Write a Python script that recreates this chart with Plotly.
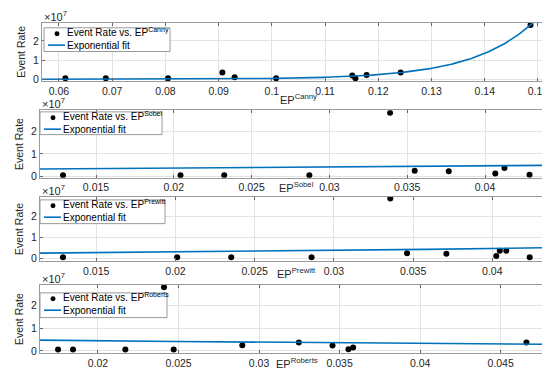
import numpy as np
import plotly.graph_objects as go

# Event rate values are in units of 1e7 (axis shows x10^7)
methods = ["Canny", "Sobel", "Prewitt", "Roberts"]

ep_canny = [0.0612, 0.0688, 0.0805, 0.0907, 0.0930, 0.1008, 0.1151, 0.1157, 0.1178, 0.1242, 0.1486]
er_canny = [0.05, 0.05, 0.05, 0.35, 0.10, 0.05, 0.20, 0.05, 0.22, 0.35, 2.83]

ep_sobel = [0.01288, 0.02043, 0.02324, 0.02871, 0.03390, 0.03548, 0.03767, 0.04066, 0.04125, 0.04286]
er_sobel = [0.04, 0.04, 0.04, 0.04, 2.84, 0.24, 0.22, 0.12, 0.37, 0.06]

ep_prewitt = [0.0129, 0.02011, 0.02352, 0.02859, 0.03356, 0.03462, 0.03710, 0.04025, 0.04047, 0.04088, 0.04236]
er_prewitt = [0.06, 0.06, 0.06, 0.06, 2.85, 0.25, 0.23, 0.12, 0.37, 0.37, 0.06]

ep_roberts = [0.01752, 0.01845, 0.0217, 0.0241, 0.0247, 0.02896, 0.03247, 0.03456, 0.03555, 0.03584, 0.0466]
er_roberts = [0.06, 0.06, 0.06, 2.82, 0.06, 0.25, 0.37, 0.24, 0.07, 0.15, 0.37]

# exponential fit coefficients y = a*exp(b*x)
fit_a = [7.98e-6, 0.276, 0.203, 0.622]
fit_b = [86.0, 12.9, 21.4, -15.8]

x_ranges = [[0.05681, 0.15301], [0.0114, 0.04437], [0.01145, 0.04383], [0.0164, 0.04825]]
x_ticks = [[0.06, 0.07, 0.08, 0.09, 0.1, 0.11, 0.12, 0.13, 0.14, 0.15],
           [0.015, 0.02, 0.025, 0.03, 0.035, 0.04],
           [0.015, 0.02, 0.025, 0.03, 0.035, 0.04],
           [0.02, 0.025, 0.03, 0.035, 0.04, 0.045]]
x_ticktext = [["0.06", "0.07", "0.08", "0.09", "0.1", "0.11", "0.12", "0.13", "0.14", "0.15"],
              ["0.015", "0.02", "0.025", "0.03", "0.035", "0.04"],
              ["0.015", "0.02", "0.025", "0.03", "0.035", "0.04"],
              ["0.02", "0.025", "0.03", "0.035", "0.04", "0.045"]]
y_ranges = [[-0.1, 2.96], [-0.075, 2.96], [-0.11, 2.92], [-0.1, 2.92]]
y_ticks = [0, 1, 2]

eps = [ep_canny, ep_sobel, ep_prewitt, ep_roberts]
ers = [er_canny, er_sobel, er_prewitt, er_roberts]

W, H = 550, 369
# pixel boxes (left, right, top, bottom)
boxes = [(34, 546, 14.7, 74), (32, 545, 103.3, 171.7), (32, 545, 191, 255.7), (32, 545, 280, 349)]
xtitle_y = [92.5, 181, 267.5, 358.5]
# legend boxes in pixels (left, right, top, bottom)
leg_boxes = [(36, 162, 20, 44), (32, 154, 105, 128), (32, 157, 194, 218), (32, 159, 288, 313)]

fig = go.Figure()
layout = dict(width=W, height=H, margin=dict(l=0, r=0, t=0, b=0),
              paper_bgcolor="white", plot_bgcolor="white", showlegend=False,
              font=dict(family="Liberation Sans, Arial, sans-serif", size=10, color="#262626"))
annotations = []
shapes = []
blue = "#0072BD"


def px(x):
    return x / W


def py(y):
    return 1 - y / H


for i in range(4):
    n = "" if i == 0 else str(i + 1)
    l, r, t, b = boxes[i]
    xd = [l / W, r / W]
    yd = [1 - b / H, 1 - t / H]
    xf = np.linspace(x_ranges[i][0], x_ranges[i][1], 400)
    yf = fit_a[i] * np.exp(fit_b[i] * xf)
    fig.add_trace(go.Scatter(x=eps[i], y=ers[i], mode="markers",
                             marker=dict(color="black", size=6),
                             name="Event Rate vs. EP<sup>" + methods[i] + "</sup>",
                             xaxis="x" + n, yaxis="y" + n))
    fig.add_trace(go.Scatter(x=xf, y=yf, mode="lines", line=dict(color=blue, width=1.6),
                             name="Exponential fit", xaxis="x" + n, yaxis="y" + n))
    axcommon = dict(showline=True, linecolor="#9a9a9a", linewidth=1, mirror="ticks",
                    ticks="inside", ticklen=3, tickcolor="#666", showgrid=True,
                    gridcolor="#e3e3e3", gridwidth=1, zeroline=False,
                    tickfont=dict(size=10.5, color="#262626"))
    layout["xaxis" + n] = dict(domain=xd, range=x_ranges[i], anchor="y" + n,
                               tickvals=x_ticks[i], ticktext=x_ticktext[i], **axcommon)
    layout["yaxis" + n] = dict(domain=yd, range=y_ranges[i], anchor="x" + n,
                               tickvals=y_ticks, ticktext=["0", "1", "2"],
                               title=dict(text="Event Rate", font=dict(size=10.5), standoff=5),
                               **axcommon)
    annotations.append(dict(text="\u00d710<sup>7</sup>", xref="paper", yref="paper",
                            x=xd[0], y=py(t - 7), xanchor="left", yanchor="middle",
                            showarrow=False, font=dict(size=11, color="#262626")))
    annotations.append(dict(text="EP<sup>" + methods[i] + "</sup>", xref="paper", yref="paper",
                            x=(xd[0] + xd[1]) / 2, y=py(xtitle_y[i]), xanchor="center",
                            yanchor="middle", showarrow=False,
                            font=dict(size=11, color="#262626")))
    # manual compact legend
    ll, lr, lt, lb = leg_boxes[i]
    shapes.append(dict(type="rect", xref="paper", yref="paper", x0=px(ll), x1=px(lr),
                       y0=py(lb), y1=py(lt), fillcolor="white",
                       line=dict(color="#9a9a9a", width=1), layer="above"))
    row1 = lt + 6
    row2 = lt + 17.5
    shapes.append(dict(type="circle", xref="paper", yref="paper",
                       x0=px(ll + 10.5), x1=px(ll + 15.5), y0=py(row1 + 2.5), y1=py(row1 - 2.5),
                       fillcolor="black", line=dict(color="black", width=0), layer="above"))
    shapes.append(dict(type="line", xref="paper", yref="paper",
                       x0=px(ll + 4), x1=px(ll + 21), y0=py(row2), y1=py(row2),
                       line=dict(color=blue, width=1.6), layer="above"))
    annotations.append(dict(text="Event Rate vs. EP<sup>" + methods[i] + "</sup>",
                            xref="paper", yref="paper", x=px(ll + 22), y=py(row1 - 1.5),
                            xanchor="left", yanchor="middle", showarrow=False, borderpad=0,
                            font=dict(size=10, color="black")))
    annotations.append(dict(text="Exponential fit", xref="paper", yref="paper",
                            x=px(ll + 22), y=py(row2), xanchor="left", yanchor="middle",
                            showarrow=False, borderpad=0,
                            font=dict(size=10, color="black")))
layout["annotations"] = annotations
layout["shapes"] = shapes
fig.update_layout(**layout)
fig.write_html("out.html")
